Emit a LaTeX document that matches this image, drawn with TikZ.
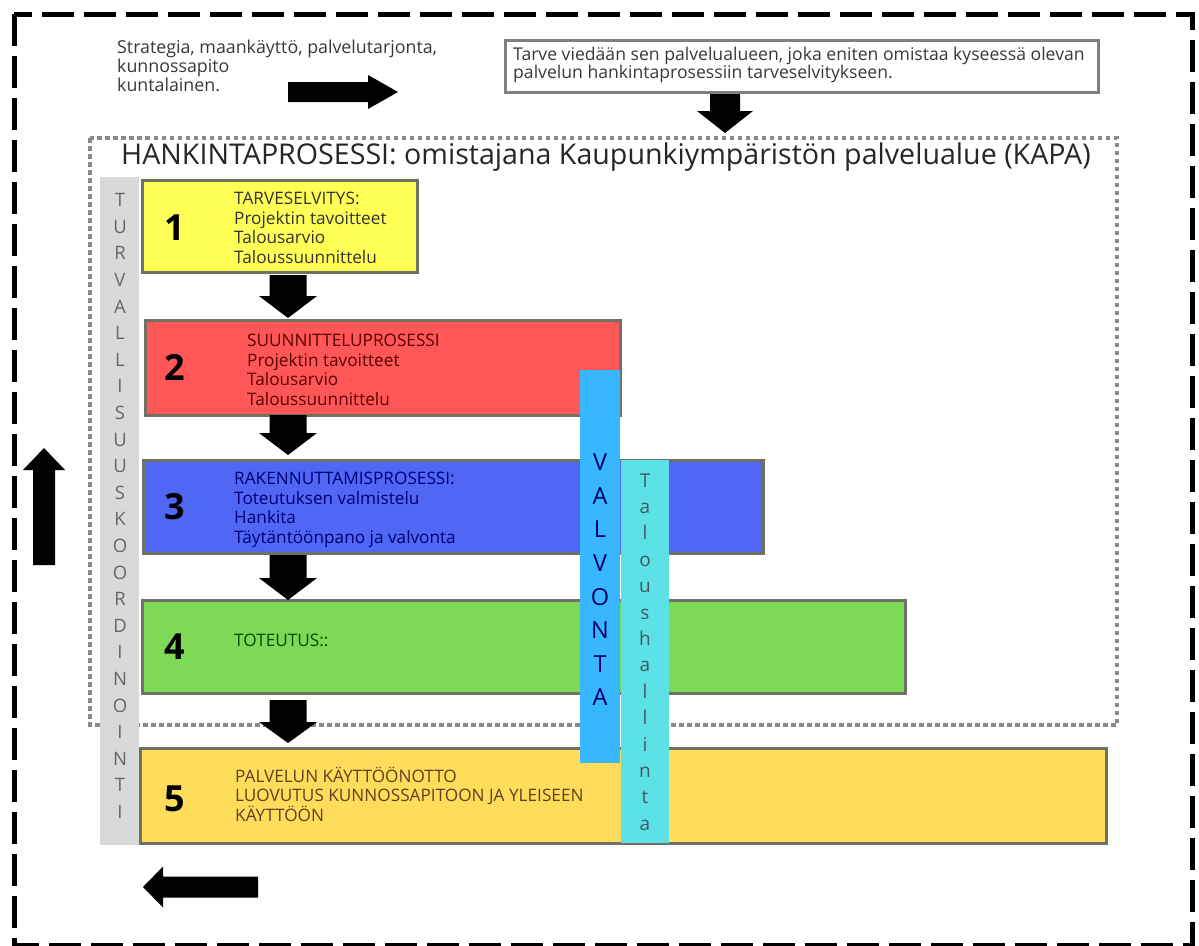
\documentclass[tikz,border=0pt]{standalone}
\usepackage{fontspec}
\setmainfont{Open Sans}
\definecolor{edgegray}{HTML}{717163}
\definecolor{dotgray}{HTML}{8A8A8A}
\definecolor{barYellow}{HTML}{FFFF55}
\definecolor{barRed}{HTML}{FF5757}
\definecolor{barBlue}{HTML}{5066F5}
\definecolor{barGreen}{HTML}{7ED957}
\definecolor{barGold}{HTML}{FFDC59}
\definecolor{valvBlue}{HTML}{38B6FF}
\definecolor{talCyan}{HTML}{5CE1E6}
\definecolor{coordGray}{HTML}{D9D9D9}
% block arrow: tail (#1,#2), direction #3, length #4, body half-width #5, head half-width #6, head length #7
\newcommand\blockarrow[7]{%
  \fill[black, shift={(#1,#2)}, rotate=#3]
    (0,#5) -- ({#4-#7},#5) -- ({#4-#7},#6) -- (#4,0) -- ({#4-#7},-#6)
    -- ({#4-#7},-#5) -- (0,-#5) -- cycle;}
\begin{document}
\begin{tikzpicture}[x=1pt, y=-1pt,
  stage/.style={draw=edgegray, line width=3pt, inner sep=0pt, outer sep=0pt, anchor=north west},
  band/.style={inner sep=0pt, outer sep=0pt, anchor=north west},
  stagenum/.style={font=\fontsize{36}{40}\selectfont\bfseries, text=black, inner sep=0pt},
  stagetext/.style={anchor=west, align=left, inner sep=0pt, font=\fontsize{17.2}{19.5}\selectfont},
  plain/.style={anchor=west, align=left, inner sep=0pt, font=\fontsize{17.8}{19}\selectfont, text=black!78},
  letters/.style={align=center, inner sep=0pt}]
\useasboundingbox (0,0) rectangle (1199,945);

% outer frame
\draw[black, line width=5pt, dash pattern=on 32pt off 10pt] (14,14) rectangle (1192,945);

% top texts
\node[plain] (intro) at (117,66) {Strategia, maankäyttö, palvelutarjonta,\\kunnossapito\\kuntalainen.};
\node[draw=gray, line width=3pt, band, minimum width=593pt, minimum height=52pt] (needbox) at (505,40) {};
\node[plain, font=\fontsize{17.6}{18}\selectfont] (needtext) at (513,65)
  {Tarve viedään sen palvelualueen, joka eniten omistaa kyseessä olevan\\palvelun hankintaprosessiin tarveselvitykseen.};

% procurement process frame
\draw[dotgray, line width=4pt, dash pattern=on 4.5pt off 3.5pt] (90,138) rectangle (1117,725);
\node[anchor=west, inner sep=0pt, font=\fontsize{28.6}{30}\selectfont, text=black!85] (title) at (121,157)
  {HANKINTAPROSESSI: omistajana Kaupunkiympäristön palvelualue (KAPA)};

% safety coordination band
\node[band, fill=coordGray, minimum width=39pt, minimum height=668pt] (turva) at (100,177) {};
\node[letters, font=\fontsize{18.5}{26.6}\selectfont, text=black!60] (turvatext) at (120,506)
  {T\\U\\R\\V\\A\\L\\L\\I\\S\\U\\U\\S\\K\\O\\O\\R\\D\\I\\N\\O\\I\\N\\T\\I};

% stages
\node[stage, fill=barYellow, minimum width=275pt, minimum height=92pt] (s1) at (142,180) {};
\node[stage, fill=barRed, minimum width=475pt, minimum height=95pt] (s2) at (145,320) {};
\node[stage, fill=barBlue, minimum width=620pt, minimum height=93pt] (s3) at (143,460) {};
\node[stage, fill=barGreen, minimum width=763pt, minimum height=93pt] (s4) at (142,600) {};
\node[stage, fill=barGold, minimum width=966pt, minimum height=95pt] (s5) at (140,748) {};

\node[stagenum] (n1) at (175,228) {1};
\node[stagenum] (n2) at (175,367) {2};
\node[stagenum] (n3) at (175,507) {3};
\node[stagenum] (n4) at (175,647) {4};
\node[stagenum] (n5) at (175,799) {5};

\node[stagetext, text=black!80] (t1) at (234,228)
  {TARVESELVITYS:\\Projektin tavoitteet\\Talousarvio\\Taloussuunnittelu};
\node[stagetext, text=red!35!black] (t2) at (247,370)
  {SUUNNITTELUPROSESSI\\Projektin tavoitteet\\Talousarvio\\Taloussuunnittelu};
\node[stagetext, text=blue!45!black] (t3) at (234,510)
  {RAKENNUTTAMISPROSESSI:\\Toteutuksen valmistelu\\Hankita\\Täytäntöönpano ja valvonta};
\node[stagetext, text=green!30!black] (t4) at (234,640) {TOTEUTUS::};
\node[stagetext, text=brown!50!black] (t5) at (235,794)
  {PALVELUN KÄYTTÖÖNOTTO\\LUOVUTUS KUNNOSSAPITOON JA YLEISEEN\\KÄYTTÖÖN};

% supervision and finance bands
\node[band, fill=valvBlue, minimum width=40pt, minimum height=393pt] (valv) at (580,370) {};
\node[letters, font=\fontsize{23.5}{33.6}\selectfont, text=blue!40!black] (valvtext) at (600,580)
  {V\\A\\L\\V\\O\\N\\T\\A};
\node[band, fill=talCyan, minimum width=48pt, minimum height=383pt] (tal) at (621,460) {};
\node[letters, font=\fontsize{19}{26.4}\selectfont, text=cyan!30!black] (taltext) at (645,652)
  {T\\a\\l\\o\\u\\s\\h\\a\\l\\l\\i\\n\\t\\a};

% block arrows
\blockarrow{288}{92}{0}{110}{10}{17}{30}
\blockarrow{725}{94}{-90}{39}{15}{28}{22}
\blockarrow{288}{275}{-90}{43}{18.5}{29}{22}
\blockarrow{288}{415}{-90}{40}{18.5}{29}{22}
\blockarrow{288}{555}{-90}{45}{18.5}{29}{22}
\blockarrow{288}{700}{-90}{43}{18.5}{29}{21}
\blockarrow{44}{565}{90}{117}{11}{21}{22}
\blockarrow{258}{887}{180}{115}{10.5}{20.5}{20}

\end{tikzpicture}
\end{document}
